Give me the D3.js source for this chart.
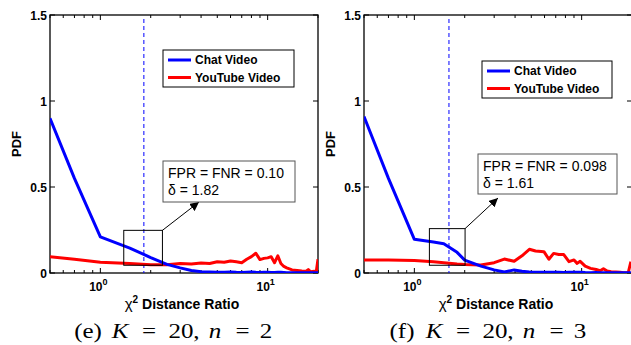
<!DOCTYPE html>
<html>
<head>
<meta charset="utf-8">
<script src="https://cdn.jsdelivr.net/npm/d3@7"></script>
<style>
  body { margin: 0; background: #fff; }
  svg { display: block; }
</style>
</head>
<body>
<div id="chart"></div>
<script>
// distance ratio samples (x) and PDF values per series
const xE = [0.5, 0.7, 1.0, 1.5, 2.0, 2.5, 3.0, 3.5, 4.0, 4.5, 5.0, 5.5, 6.0, 6.5, 7.0, 7.5, 8.0, 8.5, 9.0, 9.5, 10, 10.5, 11, 11.5, 12, 12.5, 13, 14, 15, 16, 17, 17.5, 18, 19, 19.5, 20];
const chatE = [0.90, 0.55, 0.21, 0.145, 0.09, 0.05, 0.03, 0.015, 0.008, 0.006, 0.005, 0.004, 0.006, 0.004, 0.003, 0.005, 0.006, 0.004, 0.003, 0.004, 0.004, 0.003, 0.003, 0.004, 0.004, 0.003, 0.002, 0.002, 0.002, 0.002, 0.001, 0.002, 0.001, 0.001, 0.001, 0.001];
const ytE = [0.095, 0.08, 0.063, 0.055, 0.048, 0.048, 0.055, 0.052, 0.058, 0.055, 0.065, 0.062, 0.07, 0.065, 0.06, 0.08, 0.095, 0.115, 0.078, 0.085, 0.088, 0.095, 0.06, 0.1, 0.055, 0.038, 0.03, 0.018, 0.015, 0.012, 0.01, 0.02, 0.008, 0.01, 0.003, 0.08];

const xF = [0.5, 0.7, 1.0, 1.3, 1.5, 1.8, 2.0, 2.5, 3.0, 3.45, 3.95, 4.4, 4.87, 5.3, 5.95, 6.37, 6.8, 7.3, 7.8, 8.4, 9.0, 9.4, 9.8, 10.5, 11.3, 12.2, 12.9, 13.5, 14.2, 15, 16, 17, 17.8, 19, 19.7];
const chatF = [0.91, 0.55, 0.196, 0.18, 0.17, 0.12, 0.075, 0.04, 0.018, 0.006, 0.018, 0.01, 0.006, 0.005, 0.004, 0.005, 0.004, 0.005, 0.003, 0.004, 0.004, 0.005, 0.005, 0.003, 0.002, 0.003, 0.002, 0.002, 0.002, 0.001, 0.001, 0.001, 0.001, 0.001, 0.001];
const ytF = [0.076, 0.075, 0.072, 0.065, 0.06, 0.053, 0.05, 0.047, 0.06, 0.081, 0.068, 0.1, 0.138, 0.128, 0.124, 0.08, 0.114, 0.108, 0.108, 0.066, 0.076, 0.056, 0.068, 0.04, 0.027, 0.02, 0.013, 0.025, 0.012, 0.008, 0.006, 0.004, 0.002, 0.003, 0.066];

const yTicks = [0, 0.5, 1, 1.5];
const yTickLabels = ['0', '0.5', '1', '1.5'];
const xMajor = [1, 10];
const xMinor = [0.5, 0.6, 0.7, 0.8, 0.9, 2, 3, 4, 5, 6, 7, 8, 9, 20];
const seriesNames = ['Chat Video', 'YouTube Video'];
const seriesColors = ['#0000ff', '#ff0000'];

const panels = [
  { x: xE, chat: chatE, yt: ytE, left: 50, right: 318, delta: 1.82, fpr: '0.10',
    zoom: [1.38, 2.35, 0.045, 0.248], caption: 'e', n: 2,
    box: [163, 161, 132, 41], arrowTip: [199, 202],
    legend: [163, 50, 131, 37] },
  { x: xF, chat: chatF, yt: ytF, left: 364, right: 632, delta: 1.61, fpr: '0.098',
    zoom: [1.23, 2.01, 0.045, 0.258], caption: 'f', n: 3,
    box: [478, 154, 139, 40], arrowTip: [498, 198],
    legend: [482, 61, 130, 37] }
];

const width = 631, height = 345;
const plotTop = 15, plotBottom = 273;

const svg = d3.select('#chart').append('svg')
  .attr('width', width)
  .attr('height', height)
  .style('font-family', '"Liberation Sans", Arial, sans-serif');

const defs = svg.append('defs');
defs.append('marker')
  .attr('id', 'arrowHead')
  .attr('viewBox', '0 0 10 10')
  .attr('refX', 10).attr('refY', 5)
  .attr('markerWidth', 9).attr('markerHeight', 9)
  .attr('markerUnits', 'userSpaceOnUse')
  .attr('orient', 'auto')
  .append('path')
  .attr('d', 'M0,0 L10,5 L0,10 z')
  .attr('fill', '#000');

panels.forEach((p, idx) => {
  const x = d3.scaleLog().domain([0.5, 20]).range([p.left, p.right]);
  const y = d3.scaleLinear().domain([0, 1.5]).range([plotBottom, plotTop]);
  const g = svg.append('g');

  defs.append('clipPath').attr('id', 'clip' + idx)
    .append('rect')
    .attr('x', p.left).attr('y', plotTop)
    .attr('width', p.right - p.left).attr('height', plotBottom - plotTop);

  // frame
  g.append('rect')
    .attr('x', p.left).attr('y', plotTop)
    .attr('width', p.right - p.left).attr('height', plotBottom - plotTop)
    .attr('fill', 'none').attr('stroke', '#000').attr('stroke-width', 1.3);

  // ticks (inside, on all sides)
  const xTicks = xMajor.map(v => ({ v, len: 5 })).concat(xMinor.map(v => ({ v, len: 3 })));
  g.selectAll('.xtb').data(xTicks).enter().append('line')
    .attr('x1', d => x(d.v)).attr('x2', d => x(d.v))
    .attr('y1', plotBottom).attr('y2', d => plotBottom - d.len)
    .attr('stroke', '#000').attr('stroke-width', 1);
  g.selectAll('.xtt').data(xTicks).enter().append('line')
    .attr('x1', d => x(d.v)).attr('x2', d => x(d.v))
    .attr('y1', plotTop).attr('y2', d => plotTop + d.len)
    .attr('stroke', '#000').attr('stroke-width', 1);
  g.selectAll('.ytl').data(yTicks).enter().append('line')
    .attr('x1', p.left).attr('x2', p.left + 5)
    .attr('y1', d => y(d)).attr('y2', d => y(d))
    .attr('stroke', '#000');
  g.selectAll('.ytr').data(yTicks).enter().append('line')
    .attr('x1', p.right).attr('x2', p.right - 5)
    .attr('y1', d => y(d)).attr('y2', d => y(d))
    .attr('stroke', '#000');

  // y tick labels
  g.selectAll('.ylab').data(yTicks).enter().append('text')
    .attr('x', p.left - 3).attr('y', d => y(d) + 4.5)
    .attr('text-anchor', 'end')
    .attr('font-size', 12).attr('font-weight', 'bold')
    .text((d, i) => yTickLabels[i]);

  // x tick labels 10^k
  xMajor.forEach(v => {
    const t = g.append('text')
      .attr('x', x(v) - 2).attr('y', 291)
      .attr('text-anchor', 'middle')
      .attr('font-size', 12).attr('font-weight', 'bold');
    t.append('tspan').text('10');
    t.append('tspan').attr('dy', -6).attr('font-size', 9).text(Math.round(Math.log10(v)));
  });

  // axis titles
  const cx = (p.left + p.right) / 2;
  const xt = g.append('text')
    .attr('x', cx - 2).attr('y', 309)
    .attr('text-anchor', 'middle')
    .attr('font-size', 14).attr('font-weight', 'bold');
  xt.append('tspan').attr('font-weight', 'normal').attr('font-size', 15).text('χ');
  xt.append('tspan').attr('dy', -6).attr('font-size', 10).text('2');
  xt.append('tspan').attr('dy', 6).text(' Distance Ratio');

  g.append('text')
    .attr('transform', `translate(${p.left - 29},${(plotTop + plotBottom) / 2}) rotate(-90)`)
    .attr('text-anchor', 'middle')
    .attr('font-size', 13).attr('font-weight', 'bold')
    .text('PDF');

  // caption, wide math-style setting
  const parts = [
    { t: `(${p.caption})`, dx: -96 },
    { t: 'K', dx: -64, it: true },
    { t: '=', dx: -35 },
    { t: '20,', dx: 0 },
    { t: 'n', dx: 31, it: true },
    { t: '=', dx: 58.5 },
    { t: String(p.n), dx: 82 }
  ];
  parts.forEach(d => {
    g.append('text')
      .attr('transform', `translate(${cx + d.dx},338) scale(1.25,1)`)
      .attr('text-anchor', 'middle')
      .attr('font-family', '"Liberation Serif", "DejaVu Serif", serif')
      .attr('font-size', 20)
      .attr('font-style', d.it ? 'italic' : 'normal')
      .text(d.t);
  });

  // threshold line
  g.append('line')
    .attr('x1', x(p.delta)).attr('x2', x(p.delta))
    .attr('y1', plotTop + 4).attr('y2', plotBottom)
    .attr('stroke', '#0000ff').attr('stroke-width', 1)
    .attr('stroke-dasharray', '4,3');

  // curves
  const line = d3.line().x(d => x(d[0])).y(d => y(d[1]));
  const lines = g.append('g').attr('clip-path', `url(#clip${idx})`);
  [p.yt, p.chat].forEach((vals, k) => {
    lines.append('path')
      .datum(p.x.map((v, i) => [v, vals[i]]))
      .attr('d', line)
      .attr('fill', 'none')
      .attr('stroke', k === 0 ? seriesColors[1] : seriesColors[0])
      .attr('stroke-width', 3)
      .attr('stroke-linejoin', 'round');
  });

  // zoom rectangle
  const [zx0, zx1, zy0, zy1] = p.zoom;
  g.append('rect')
    .attr('x', x(zx0)).attr('y', y(zy1))
    .attr('width', x(zx1) - x(zx0)).attr('height', y(zy0) - y(zy1))
    .attr('fill', 'none').attr('stroke', '#000').attr('stroke-width', 1);

  // arrow to annotation
  g.append('line')
    .attr('x1', x(zx1)).attr('y1', y(zy1))
    .attr('x2', p.arrowTip[0]).attr('y2', p.arrowTip[1])
    .attr('stroke', '#000').attr('stroke-width', 1)
    .attr('marker-end', 'url(#arrowHead)');

  // annotation box
  const [bx, by, bw, bh] = p.box;
  g.append('rect')
    .attr('x', bx).attr('y', by).attr('width', bw).attr('height', bh)
    .attr('fill', '#fff').attr('stroke', '#555').attr('stroke-width', 1);
  g.append('text')
    .attr('x', bx + 5).attr('y', by + 17)
    .attr('font-size', 14)
    .text(`FPR = FNR = ${p.fpr}`);
  g.append('text')
    .attr('x', bx + 5).attr('y', by + 34)
    .attr('font-size', 14)
    .text(`δ = ${p.delta.toFixed(2)}`);

  // legend
  const [lx, ly, lw, lh] = p.legend;
  g.append('rect')
    .attr('x', lx).attr('y', ly).attr('width', lw).attr('height', lh)
    .attr('fill', '#fff').attr('stroke', '#000').attr('stroke-width', 1);
  seriesNames.forEach((name, i) => {
    const yy = ly + 10 + i * 17.5;
    g.append('line')
      .attr('x1', lx + 5).attr('x2', lx + 28)
      .attr('y1', yy).attr('y2', yy)
      .attr('stroke', seriesColors[i]).attr('stroke-width', 3);
    g.append('text')
      .attr('x', lx + 32).attr('y', yy + 4)
      .attr('font-size', 12).attr('font-weight', 'bold')
      .text(name);
  });
});
</script>
</body>
</html>
